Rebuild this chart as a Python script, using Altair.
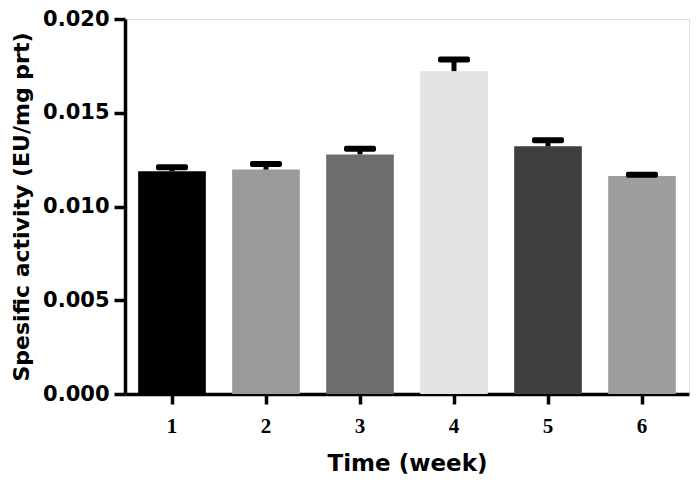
import altair as alt
import pandas as pd

weeks = ["1", "2", "3", "4", "5", "6"]
activity = [0.01188, 0.01197, 0.01278, 0.01722, 0.01321, 0.01163]
sem = [0.00022, 0.00030, 0.00030, 0.00062, 0.00033, 0.00006]
colors = ["#000000", "#9a9a9a", "#6e6e6e", "#e3e3e3", "#404040", "#9e9e9e"]

df = pd.DataFrame({"week": weeks, "value": activity, "sem": sem, "color": colors})
df["upper"] = df["value"] + df["sem"]

x = alt.X("week:N", title="Time (week)",
          scale=alt.Scale(paddingInner=0.28, paddingOuter=0.14),
          axis=alt.Axis(labelAngle=0, labelFont="Liberation Serif", labelFontWeight="bold",
                        labelFontSize=21, labelColor="#000", labelPadding=11,
                        domainColor="#000", domainWidth=3.5, tickColor="#000",
                        tickWidth=3.5, tickSize=10, titleFont="DejaVu Sans",
                        titleFontWeight="bold", titleFontSize=23, titleColor="#000",
                        titlePadding=16))

y_axis = alt.Axis(values=[0, 0.005, 0.01, 0.015, 0.02], format=".3f", grid=False,
                  labelFont="DejaVu Sans", labelFontWeight="bold", labelFontSize=21,
                  labelColor="#000", labelPadding=5, domainColor="#000", domainWidth=3.5,
                  tickColor="#000", tickWidth=3.5, tickSize=11, titleFont="DejaVu Sans",
                  titleFontWeight="bold", titleFontSize=22, titleColor="#000",
                  titlePadding=9)

bars = alt.Chart(df).mark_bar().encode(
    x=x,
    y=alt.Y("value:Q", title="Spesific activity (EU/mg prt)",
            scale=alt.Scale(domain=[0, 0.02], nice=False), axis=y_axis),
    color=alt.Color("color:N", scale=None),
)

rules = alt.Chart(df).mark_rule(color="#000", strokeWidth=5).encode(
    x="week:N", y="value:Q", y2="upper:Q"
)

caps = alt.Chart(df).mark_tick(color="#000", opacity=1, size=32, thickness=6,
                               cornerRadius=2).encode(
    x="week:N", y="upper:Q"
)

chart = alt.layer(bars, rules, caps).properties(
    width=564, height=375,
    autosize=alt.AutoSizeParams(type="none"),
    padding={"left": 117, "top": 11, "right": 2, "bottom": 82},
).configure_view(stroke=None).configure(background="white")

chart.save("out.html", embed_options={"renderer": "svg", "actions": False})
